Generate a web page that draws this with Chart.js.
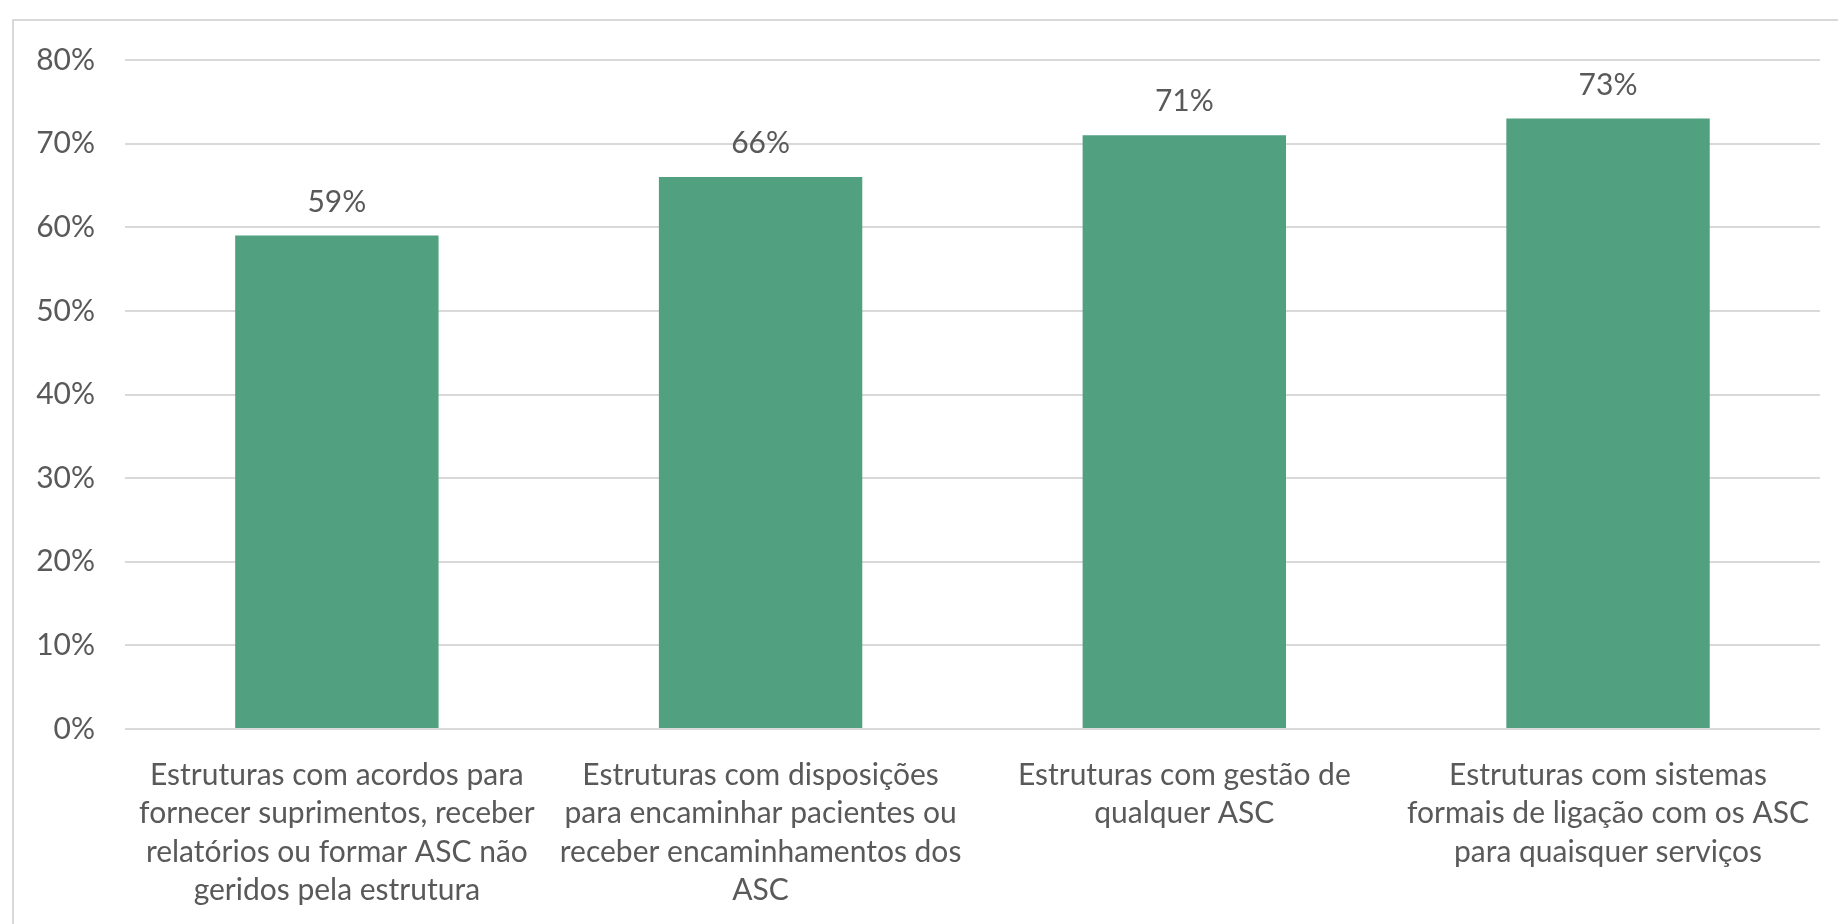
<!DOCTYPE html>
<html>
<head>
<meta charset="utf-8">
<script src="https://cdn.jsdelivr.net/npm/chart.js@4/dist/chart.umd.min.js"></script>
<style>
  html, body { margin: 0; padding: 0; background: #fff; overflow: hidden; }
  #wrap { position: relative; width: 1838px; height: 924px; }
  #frame {
    position: absolute; left: 12px; top: 19px; width: 1900px; height: 1000px;
    border-left: 2px solid #d9d9d9; border-top: 2px solid #d9d9d9;
  }
  canvas { position: absolute; left: 0; top: 0; }
</style>
</head>
<body>
<div id="wrap">
  <div id="frame"></div>
  <canvas id="barChart" width="1838" height="924"></canvas>
</div>
<script>
const categories = [
  ["Estruturas com acordos para", "fornecer suprimentos, receber", "relatórios ou formar ASC não", "geridos pela estrutura"],
  ["Estruturas com disposições", "para encaminhar pacientes ou", "receber encaminhamentos dos", "ASC"],
  ["Estruturas com gestão de", "qualquer ASC"],
  ["Estruturas com sistemas", "formais de ligação com os ASC", "para quaisquer serviços"]
];
const values = [59, 66, 71, 73];
const yTicks = [0, 10, 20, 30, 40, 50, 60, 70, 80];

const FONT = "Lato";
const TEXT = "#595959";

// draw the value above each bar
const barLabels = {
  id: "barLabels",
  afterDatasetsDraw(chart) {
    const ctx = chart.ctx;
    const meta = chart.getDatasetMeta(0);
    ctx.save();
    ctx.font = "30px " + FONT;
    ctx.fillStyle = TEXT;
    ctx.textAlign = "center";
    ctx.textBaseline = "alphabetic";
    meta.data.forEach((bar, i) => {
      ctx.fillText(values[i] + "%", bar.x, bar.y - 24);
    });
    ctx.restore();
  },
};

var ctxBar = document.getElementById("barChart").getContext("2d");
var barChart = new Chart(ctxBar, {
  type: "bar",
  data: {
    labels: categories,
    datasets: [
      {
        data: values,
        backgroundColor: "#51a07f",
        borderWidth: 0,
        categoryPercentage: 1,
        barPercentage: 0.48,
      },
    ],
  },
  options: {
    responsive: false,
    animation: false,
    devicePixelRatio: 1,
    layout: { padding: { top: 60, right: 15, bottom: 0, left: 0 } },
    plugins: {
      legend: { display: false },
      tooltip: { enabled: false },
    },
    scales: {
      x: {
        grid: { display: false, drawTicks: false },
        border: { display: false },
        ticks: {
          color: TEXT,
          font: { family: FONT, size: 30, lineHeight: 1.28 },
          maxRotation: 0,
          autoSkip: false,
          padding: 27,
        },
        afterFit(scale) { scale.height = 195; },
      },
      y: {
        min: 0,
        max: 80,
        afterBuildTicks(scale) { scale.ticks = yTicks.map((v) => ({ value: v })); },
        grid: { color: "#d9d9d9", lineWidth: 2, drawTicks: false },
        border: { display: false },
        ticks: {
          color: TEXT,
          font: { family: FONT, size: 30 },
          padding: 30,
          callback: (v) => v + "%",
        },
        afterFit(scale) { scale.width = 125; },
      },
    },
  },
  plugins: [barLabels],
});
</script>
</body>
</html>
